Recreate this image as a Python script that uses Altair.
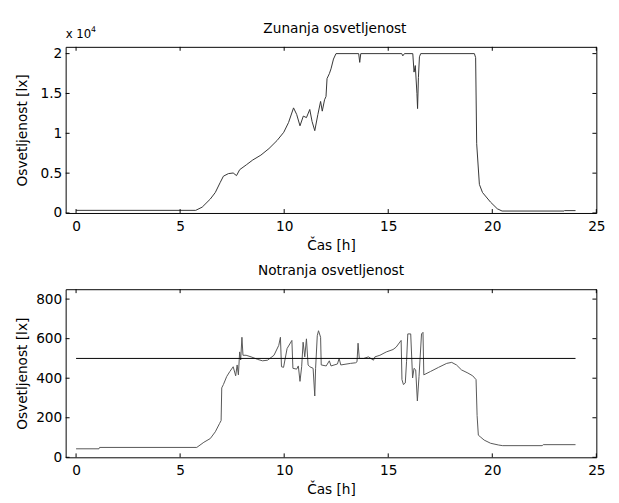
import altair as alt
import pandas as pd

# ---------------- data ----------------
out_h = [0, 5.75, 6.06, 6.45, 6.69, 6.92, 7.08, 7.32, 7.55, 7.71, 7.86, 8.18, 8.49, 8.88,
         9.27, 9.66, 9.98, 10.21, 10.45, 10.6, 10.76, 10.92, 11.07, 11.23, 11.34, 11.47,
         11.62, 11.75, 11.83, 11.94, 12.01, 12.06, 12.17, 12.25, 12.37, 12.49, 13.58,
         13.63, 13.68, 15.65, 15.7, 15.78, 16.18, 16.24, 16.3, 16.38, 16.41, 16.45, 16.5,
         16.56, 19.14, 19.2, 19.25, 19.38, 19.53, 19.92, 20.24, 20.47, 23.45, 23.47, 24.0]
out_lux = [330, 330, 735, 1750, 2570, 3800, 4620, 4940, 5020, 4690, 5430, 6040, 6650, 7260,
           8085, 9100, 10130, 11350, 13190, 12370, 10940, 12160, 11970, 12990, 11480, 10330,
           12370, 14000, 12780, 14210, 14620, 16870, 17480, 18090, 19320, 20000, 20000,
           18900, 20000, 20000, 19720, 20000, 20000, 17680, 18500, 15000, 13100, 17000, 19600,
           20000, 20000, 19500, 8700, 3590, 2570, 1350, 530, 245, 245, 300, 300]

in_h = [0, 1.1, 1.13, 5.8, 6.14, 6.45, 6.69, 6.89, 6.97, 7.0, 7.08, 7.24, 7.39, 7.55, 7.67,
        7.74, 7.8, 7.86, 7.91, 7.97, 8.02, 8.17, 8.41, 8.73, 8.96, 9.2, 9.51, 9.74, 9.82,
        9.87, 9.97, 10.14, 10.37, 10.42, 10.6, 10.68, 10.76, 10.84, 10.91, 10.99, 11.07,
        11.15, 11.23, 11.39, 11.47, 11.51, 11.59, 11.65, 11.75, 11.78, 12.02, 12.17, 12.25,
        12.56, 12.64, 12.72, 13.19, 13.43, 13.5, 13.55, 13.61, 13.82, 14.05, 14.29, 14.36,
        14.6, 14.91, 15.23, 15.38, 15.62, 15.66, 15.73, 15.82, 15.88, 15.94, 16.08, 16.17,
        16.24, 16.32, 16.4, 16.48, 16.6, 16.67, 16.71, 17.03, 17.42, 17.81, 18.05, 18.28,
        18.52, 18.83, 19.06, 19.22, 19.27, 19.33, 19.42, 19.61, 19.92, 20.31, 20.5, 22.4,
        22.45, 24.0]
in_lux = [43, 43, 50, 50, 76, 95, 129, 170, 186, 351, 368, 409, 434, 458, 412,
          467, 417, 533, 492, 607, 516, 516, 508, 495, 488, 491, 516, 566, 607,
          458, 455, 550, 591, 450, 446, 462, 384, 458, 582, 508, 599,
          467, 458, 450, 310, 450, 615, 640, 607, 467, 462, 488, 462,
          472, 500, 467, 475, 478, 483, 577, 500, 500, 508, 491, 508,
          516, 533, 545, 557, 591, 393, 368, 376, 483, 624, 624, 401,
          450, 442, 285, 409, 624, 632, 417, 434, 455, 475, 480, 467,
          442, 426, 412, 393, 211, 112, 104, 87, 71, 62, 59, 59,
          64, 64]

x_ticks = [0, 5, 10, 15, 20, 25]
top_y_ticks = [0, 5000, 10000, 15000, 20000]
bot_y_ticks = [0, 200, 400, 600, 800]
setpoint_start, setpoint_end, setpoint = [0], [24], [500]

title_top = "Zunanja osvetljenost"
title_bot = "Notranja osvetljenost"
x_title = "Čas [h]"
y_title = "Osvetljenost [lx]"

# ---------------- layout ----------------
W, H1, H2 = 543, 170, 172
FONT = "DejaVu Sans"
TICK = 4

xscale = alt.Scale(domain=[-0.5, 25], nice=False, zero=False)

XAXIS = alt.Axis(values=x_ticks, title=x_title, ticks=False, grid=False, domain=False,
                 labelPadding=7, titlePadding=5, labelFontSize=14, titleFontSize=14,
                 labelFont=FONT, titleFont=FONT, titleFontWeight="normal",
                 labelColor="black", titleColor="black", labelFlush=False)


def y_axis(values, label_expr=None):
    kw = dict(values=values, title=y_title, ticks=False, grid=False, domain=False,
              labelPadding=4, labelFontSize=14, titleFontSize=14, labelFont=FONT,
              titleFont=FONT, titleFontWeight="normal", labelColor="black",
              titleColor="black", titleX=-44, titleBaseline="middle", labelFlush=False)
    if label_expr:
        kw["labelExpr"] = label_expr
    return alt.Axis(**kw)


def inner_ticks(yvals, yscale, yaxis, h):
    xt = pd.DataFrame({"t": x_ticks})
    yt = pd.DataFrame({"v": yvals})
    base_x = alt.Chart(xt).mark_rule(color="black", strokeWidth=1)
    base_y = alt.Chart(yt).mark_rule(color="black", strokeWidth=1)
    xb = base_x.encode(x=alt.X("t:Q", scale=xscale, axis=XAXIS),
                       y=alt.value(h), y2=alt.value(h - TICK))
    xtp = base_x.encode(x=alt.X("t:Q", scale=xscale, axis=XAXIS),
                        y=alt.value(0), y2=alt.value(TICK))
    yl = base_y.encode(y=alt.Y("v:Q", scale=yscale, axis=yaxis),
                       x=alt.value(0), x2=alt.value(TICK))
    yr = base_y.encode(y=alt.Y("v:Q", scale=yscale, axis=yaxis),
                       x=alt.value(W), x2=alt.value(W - TICK))
    return [xb, xtp, yl, yr]


def label(text, x, y, size, align="left"):
    return alt.Chart(pd.DataFrame({"a": [1]})).mark_text(
        text=text, align=align, baseline="alphabetic", fontSize=size, font=FONT, color="black"
    ).encode(x=alt.value(x), y=alt.value(y))


# top panel
top_df = pd.DataFrame({"h": out_h, "lux": out_lux})
yscale_top = alt.Scale(domain=[0, 20850], nice=False, zero=False)
yaxis_top = y_axis(top_y_ticks, "datum.value / 10000")
top_line = alt.Chart(top_df).mark_line(color="#333333", strokeWidth=1).encode(
    x=alt.X("h:Q", scale=xscale, axis=XAXIS),
    y=alt.Y("lux:Q", scale=yscale_top, axis=yaxis_top),
)
top = alt.layer(
    top_line,
    *inner_ticks(top_y_ticks, yscale_top, yaxis_top, H1),
    label("x 10", 0, -9, 12),
    label("4", 26, -15, 8),
    label(title_top, W / 2 + 4, -14, 14, align="center"),
).properties(width=W, height=H1)

# bottom panel
bot_df = pd.DataFrame({"h": in_h, "lux": in_lux})
sp_df = pd.DataFrame({"x0": setpoint_start, "x1": setpoint_end, "y": setpoint})
yscale_bot = alt.Scale(domain=[0, 850], nice=False, zero=False)
yaxis_bot = y_axis(bot_y_ticks)
bot_line = alt.Chart(bot_df).mark_line(color="#555555", strokeWidth=1).encode(
    x=alt.X("h:Q", scale=xscale, axis=XAXIS),
    y=alt.Y("lux:Q", scale=yscale_bot, axis=yaxis_bot),
)
sp_rule = alt.Chart(sp_df).mark_rule(color="black", strokeWidth=1).encode(
    x=alt.X("x0:Q", scale=xscale, axis=XAXIS),
    x2="x1:Q",
    y=alt.Y("y:Q", scale=yscale_bot, axis=yaxis_bot),
)
bot = alt.layer(bot_line, sp_rule, *inner_ticks(bot_y_ticks, yscale_bot, yaxis_bot, H2)).properties(
    width=W, height=H2,
    title=alt.TitleParams(title_bot, fontSize=14, font=FONT, fontWeight="normal",
                          anchor="middle", frame="group", offset=11, color="black"),
)

chart = alt.vconcat(top, bot, spacing=11).properties(
    padding={"left": 7, "top": 8, "right": 5, "bottom": 0},
    background="white",
).configure_view(stroke="black", strokeWidth=1)

chart.save("out.html", embed_options={"renderer": "svg", "actions": False})
